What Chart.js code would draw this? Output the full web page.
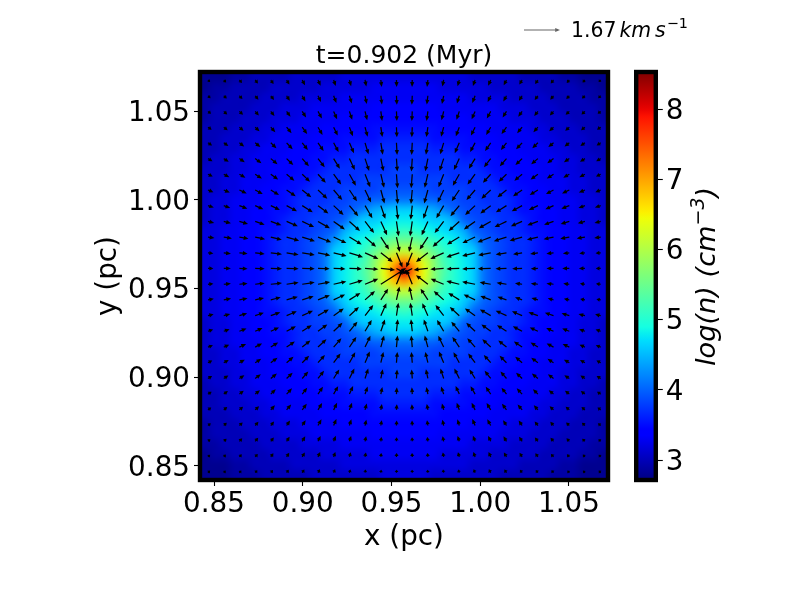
<!DOCTYPE html>
<html><head><meta charset="utf-8">
<style>html,body{margin:0;padding:0;background:#fff;width:800px;height:600px;overflow:hidden}canvas{position:absolute;top:0}#main{left:0}#cbar{left:620px}</style>
<script src="https://cdn.jsdelivr.net/npm/chart.js@4/dist/chart.umd.js"></script>
</head><body>
<canvas id="main" width="800" height="600"></canvas>
<canvas id="cbar" width="180" height="600"></canvas>
<script>
const titleText = 't=0.902 (Myr)';
const xLabel = 'x (pc)';
const yLabel = 'y (pc)';
const xTicks = [0.85,0.90,0.95,1.00,1.05];
const yTicks = [0.85,0.90,0.95,1.00,1.05];
const cbarTicks = [3,4,5,6,7,8];
const axisMin = 0.8421, axisMax = 1.072;
const cbarMin = 2.715, cbarMax = 8.53;
const keySpeed = 1.67;

// log10(n) x 10, rows top to bottom, columns left to right
const logNTenths = [
[28,28,28,29,29,30,30,30,30,31,31,31,31,31,32,32,32,32,32,32,32,32,32,32,32,32,32,31,31,31,31,31,30,30,30,30,29,29,28,28,28],
[28,29,29,30,30,30,30,31,31,31,31,31,32,32,32,32,32,33,33,33,33,33,33,33,32,32,32,32,32,31,31,31,31,31,30,30,30,30,29,29,28],
[29,29,30,30,30,30,31,31,31,31,32,32,32,32,33,33,33,33,33,33,33,33,33,33,33,33,33,32,32,32,32,31,31,31,31,30,30,30,30,29,29],
[29,30,30,30,30,31,31,31,32,32,32,33,33,33,33,33,33,34,34,34,34,34,34,34,33,33,33,33,33,33,32,32,32,31,31,31,30,30,30,30,29],
[29,30,30,30,31,31,31,32,32,32,33,33,33,33,34,34,34,34,34,34,34,34,34,34,34,34,34,33,33,33,33,32,32,32,31,31,31,30,30,30,29],
[30,30,30,31,31,31,32,32,33,33,33,33,34,34,34,34,34,35,35,35,35,35,35,35,34,34,34,34,34,33,33,33,33,32,32,31,31,31,30,30,30],
[30,30,31,31,31,32,32,33,33,33,33,34,34,34,35,35,35,35,36,36,36,36,36,35,35,35,35,34,34,34,33,33,33,33,32,32,31,31,31,30,30],
[30,30,31,31,32,32,33,33,33,34,34,34,35,35,35,36,36,36,37,37,37,37,37,36,36,36,35,35,35,34,34,34,33,33,33,32,32,31,31,30,30],
[30,31,31,32,32,33,33,33,34,34,34,35,35,36,36,37,37,37,37,37,37,37,37,37,37,37,36,36,35,35,34,34,34,33,33,33,32,32,31,31,30],
[31,31,31,32,32,33,33,34,34,34,35,35,36,37,37,37,37,37,37,38,38,38,37,37,37,37,37,37,36,35,35,34,34,34,33,33,32,32,31,31,31],
[31,31,32,32,33,33,33,34,34,35,35,36,37,37,37,37,38,38,38,38,38,38,38,38,38,37,37,37,37,36,35,35,34,34,33,33,33,32,32,31,31],
[31,31,32,32,33,33,34,34,35,35,36,37,37,37,38,38,38,38,39,39,39,39,39,38,38,38,38,37,37,37,36,35,35,34,34,33,33,32,32,31,31],
[31,32,32,33,33,33,34,34,35,36,37,37,37,38,38,39,39,40,40,41,41,41,40,40,39,39,38,38,37,37,37,36,35,34,34,33,33,33,32,32,31],
[31,32,32,33,33,34,34,35,35,36,37,37,38,38,39,40,42,44,45,46,46,46,45,44,42,40,39,38,38,37,37,36,35,35,34,34,33,33,32,32,31],
[31,32,32,33,33,34,34,35,36,37,37,38,38,39,40,44,46,46,47,48,48,48,47,46,46,44,40,39,38,38,37,37,36,35,34,34,33,33,32,32,31],
[32,32,33,33,34,34,35,35,36,37,37,38,39,40,44,46,47,48,49,50,51,50,49,48,47,46,44,40,39,38,37,37,36,35,35,34,34,33,33,32,32],
[32,32,33,33,34,34,35,36,37,37,38,39,40,43,46,48,49,51,53,55,55,55,53,51,49,48,46,43,40,39,38,37,37,36,35,34,34,33,33,32,32],
[32,32,33,33,34,34,35,36,37,37,38,39,41,46,47,49,51,54,57,60,61,60,57,54,51,49,47,46,41,39,38,37,37,36,35,34,34,33,33,32,32],
[32,32,33,33,34,34,35,36,37,37,38,39,41,46,48,50,52,57,62,68,71,68,62,57,52,50,48,46,41,39,38,37,37,36,35,34,34,33,33,32,32],
[32,32,33,33,34,34,35,36,37,37,38,39,41,46,48,50,53,57,64,72,81,72,64,57,53,50,48,46,41,39,38,37,37,36,35,34,34,33,33,32,32],
[32,32,33,33,34,34,35,36,37,37,38,39,41,46,48,50,52,57,62,68,71,68,62,57,52,50,48,46,41,39,38,37,37,36,35,34,34,33,33,32,32],
[32,32,33,33,34,34,35,36,37,37,38,39,41,46,47,49,51,54,57,60,61,60,57,54,51,49,47,46,41,39,38,37,37,36,35,34,34,33,33,32,32],
[32,32,33,33,34,34,35,36,37,37,38,39,40,43,46,48,49,51,53,55,55,55,53,51,49,48,46,43,40,39,38,37,37,36,35,34,34,33,33,32,32],
[32,32,33,33,34,34,35,35,36,37,37,38,39,40,44,46,47,48,49,50,51,50,49,48,47,46,44,40,39,38,37,37,36,35,35,34,34,33,33,32,32],
[31,32,32,33,33,34,34,35,36,37,37,38,38,39,40,44,46,46,47,48,48,48,47,46,46,44,40,39,38,38,37,37,36,35,34,34,33,33,32,32,31],
[31,32,32,33,33,34,34,35,35,36,37,37,38,38,39,40,42,44,45,46,46,46,45,44,42,40,39,38,38,37,37,36,35,35,34,34,33,33,32,32,31],
[31,32,32,33,33,33,34,34,35,36,37,37,37,38,38,39,39,40,40,41,41,41,40,40,39,39,38,38,37,37,37,36,35,34,34,33,33,33,32,32,31],
[31,31,32,32,33,33,34,34,35,35,36,37,37,37,38,38,38,38,39,39,39,39,39,38,38,38,38,37,37,37,36,35,35,34,34,33,33,32,32,31,31],
[31,31,32,32,33,33,33,34,34,35,35,36,37,37,37,37,38,38,38,38,38,38,38,38,38,37,37,37,37,36,35,35,34,34,33,33,33,32,32,31,31],
[31,31,31,32,32,33,33,34,34,34,35,35,36,37,37,37,37,37,37,38,38,38,37,37,37,37,37,37,36,35,35,34,34,34,33,33,32,32,31,31,31],
[30,31,31,32,32,33,33,33,34,34,34,35,35,36,36,37,37,37,37,37,37,37,37,37,37,37,36,36,35,35,34,34,34,33,33,33,32,32,31,31,30],
[30,30,31,31,32,32,33,33,33,34,34,34,35,35,35,36,36,36,37,37,37,37,37,36,36,36,35,35,35,34,34,34,33,33,33,32,32,31,31,30,30],
[30,30,31,31,31,32,32,33,33,33,33,34,34,34,35,35,35,35,36,36,36,36,36,35,35,35,35,34,34,34,33,33,33,33,32,32,31,31,31,30,30],
[30,30,30,31,31,31,32,32,33,33,33,33,34,34,34,34,34,35,35,35,35,35,35,35,34,34,34,34,34,33,33,33,33,32,32,31,31,31,30,30,30],
[29,30,30,30,31,31,31,32,32,32,33,33,33,33,34,34,34,34,34,34,34,34,34,34,34,34,34,33,33,33,33,32,32,32,31,31,31,30,30,30,29],
[29,30,30,30,30,31,31,31,32,32,32,33,33,33,33,33,33,34,34,34,34,34,34,34,33,33,33,33,33,33,32,32,32,31,31,31,30,30,30,30,29],
[29,29,30,30,30,30,31,31,31,31,32,32,32,32,33,33,33,33,33,33,33,33,33,33,33,33,33,32,32,32,32,31,31,31,31,30,30,30,30,29,29],
[28,29,29,30,30,30,30,31,31,31,31,31,32,32,32,32,32,33,33,33,33,33,33,33,32,32,32,32,32,31,31,31,31,31,30,30,30,30,29,29,28],
[28,28,28,29,29,30,30,30,30,31,31,31,31,31,32,32,32,32,32,32,32,32,32,32,32,32,32,31,31,31,31,31,30,30,30,30,29,29,28,28,28],
[28,28,28,29,29,29,30,30,30,30,30,31,31,31,31,31,31,31,32,32,32,32,32,31,31,31,31,31,31,31,30,30,30,30,30,29,29,29,28,28,28]
];

// quiver tails
const arrowX = [0.8466,0.8555,0.8643,0.8732,0.8820,0.8909,0.8997,0.9086,0.9174,0.9263,0.9351,0.9440,0.9528,0.9617,0.9705,0.9794,0.9882,0.9971,1.0059,1.0148,1.0236,1.0325,1.0413,1.0502,1.0590,1.0679];
const arrowY = [1.0675,1.0586,1.0498,1.0409,1.0321,1.0232,1.0144,1.0055,0.9967,0.9878,0.9790,0.9701,0.9613,0.9524,0.9436,0.9347,0.9259,0.9170,0.9082,0.8993,0.8905,0.8816,0.8728,0.8639,0.8551,0.8462];
// velocity x-component, 0.01 km/s
const arrowU = [
[9,11,12,13,13,13,13,12,10,8,6,4,1,-1,-4,-6,-8,-10,-12,-13,-13,-13,-13,-12,-11,-9],
[12,14,14,15,15,15,15,14,13,11,8,5,2,-2,-5,-8,-11,-13,-14,-15,-15,-15,-15,-14,-14,-12],
[14,16,17,17,17,18,18,18,16,13,10,6,2,-2,-6,-10,-13,-16,-18,-18,-18,-17,-17,-17,-16,-14],
[17,18,19,20,21,23,23,21,19,16,12,7,2,-2,-7,-12,-16,-19,-21,-23,-23,-21,-20,-19,-18,-17],
[19,21,22,24,26,28,26,26,23,21,16,9,3,-3,-9,-16,-21,-23,-26,-26,-28,-26,-24,-22,-21,-19],
[21,23,25,29,31,31,31,31,29,25,19,12,4,-4,-12,-19,-25,-29,-31,-31,-31,-31,-29,-25,-23,-21],
[22,26,28,31,34,36,36,36,35,30,24,15,5,-5,-15,-24,-30,-35,-36,-36,-36,-34,-31,-28,-26,-22],
[25,28,34,35,38,42,42,43,40,35,28,17,6,-6,-17,-28,-35,-40,-43,-42,-42,-38,-35,-34,-28,-25],
[27,30,37,38,42,48,49,48,46,41,34,21,7,-7,-21,-34,-41,-46,-48,-49,-48,-42,-38,-37,-30,-27],
[29,33,40,44,49,52,55,55,52,49,42,29,10,-10,-29,-42,-49,-52,-55,-55,-52,-49,-44,-40,-33,-29],
[30,38,42,46,51,58,59,61,59,57,51,38,15,-15,-38,-51,-57,-59,-61,-59,-58,-51,-46,-42,-38,-30],
[25,33,38,44,52,56,58,57,60,63,62,55,28,-28,-55,-62,-60,-60,-58,-50,-42,-36,-33,-30,-26,-24],
[25,33,38,44,52,56,58,54,55,58,62,66,45,-45,-66,-62,-60,-60,-60,-51,-46,-33,-33,-33,-28,-23],
[25,33,38,44,52,56,58,56,59,62,61,117,28,-28,-55,-60,-60,-60,-51,-46,-33,-33,-33,-28,-23,-22],
[27,34,38,41,46,52,53,55,53,51,46,34,14,-14,-34,-46,-51,-53,-48,-42,-33,-30,-27,-25,-22,-20],
[26,30,36,40,44,47,50,50,47,44,38,26,9,-9,-26,-38,-44,-47,-50,-50,-47,-44,-40,-36,-30,-26],
[24,27,33,34,38,43,44,43,41,37,31,19,6,-6,-19,-31,-37,-41,-43,-44,-43,-38,-34,-33,-27,-24],
[23,25,31,32,34,38,38,39,36,32,25,15,5,-5,-15,-25,-32,-36,-39,-38,-38,-34,-32,-31,-25,-23],
[20,23,25,28,31,32,32,32,32,27,22,12,4,-4,-12,-22,-27,-32,-32,-32,-32,-31,-28,-25,-23,-20],
[19,21,23,26,28,28,28,28,26,23,15,9,3,-3,-9,-15,-23,-26,-28,-28,-28,-28,-26,-23,-21,-19],
[17,19,20,22,23,25,23,23,21,17,12,7,2,-2,-7,-12,-17,-21,-23,-23,-25,-23,-22,-20,-19,-17],
[15,16,17,18,19,21,21,19,16,12,8,5,2,-2,-5,-8,-12,-16,-19,-21,-21,-19,-18,-17,-16,-15],
[13,14,15,15,15,16,16,16,13,9,6,4,1,-1,-4,-6,-9,-13,-16,-16,-16,-15,-15,-15,-14,-13],
[11,13,13,14,14,14,14,12,10,8,5,3,1,-1,-3,-5,-8,-10,-12,-14,-14,-14,-14,-13,-13,-11],
[8,10,11,12,12,12,12,10,8,6,4,2,1,-1,-2,-4,-6,-8,-10,-12,-12,-12,-12,-11,-10,-8],
[7,8,9,10,10,10,10,9,7,5,3,2,1,-1,-2,-3,-5,-7,-9,-10,-10,-10,-10,-9,-8,-7]
];
// velocity y-component, 0.01 km/s
const arrowV = [
[-9,-12,-14,-16,-19,-21,-24,-27,-28,-29,-30,-32,-32,-32,-32,-30,-29,-28,-27,-24,-21,-19,-16,-14,-12,-9],
[-11,-13,-15,-18,-20,-23,-26,-29,-33,-36,-38,-41,-42,-42,-41,-38,-36,-33,-29,-26,-23,-20,-18,-15,-13,-11],
[-11,-14,-16,-19,-21,-25,-28,-33,-36,-39,-41,-44,-45,-45,-44,-41,-39,-36,-33,-28,-25,-21,-19,-16,-14,-11],
[-12,-14,-17,-19,-23,-28,-32,-36,-39,-42,-44,-46,-47,-47,-46,-44,-42,-39,-36,-32,-28,-23,-19,-17,-14,-12],
[-12,-15,-17,-20,-25,-30,-33,-38,-43,-48,-53,-55,-56,-56,-55,-53,-48,-43,-38,-33,-30,-25,-20,-17,-15,-12],
[-12,-15,-17,-22,-26,-30,-35,-40,-47,-53,-57,-59,-60,-60,-59,-57,-53,-47,-40,-35,-30,-26,-22,-17,-15,-12],
[-11,-14,-16,-20,-25,-30,-35,-40,-48,-53,-60,-63,-65,-65,-63,-60,-53,-48,-40,-35,-30,-25,-20,-16,-14,-11],
[-10,-12,-16,-19,-23,-29,-34,-40,-46,-52,-58,-62,-65,-65,-62,-58,-52,-46,-40,-34,-29,-23,-19,-16,-12,-10],
[-9,-11,-14,-17,-20,-26,-31,-36,-43,-49,-58,-61,-65,-65,-61,-58,-49,-43,-36,-31,-26,-20,-17,-14,-11,-9],
[-7,-9,-12,-15,-18,-22,-26,-32,-37,-44,-54,-64,-69,-69,-64,-54,-44,-37,-32,-26,-22,-18,-15,-12,-9,-7],
[-5,-7,-8,-10,-13,-17,-19,-24,-28,-35,-45,-58,-69,-69,-58,-45,-35,-28,-24,-19,-17,-13,-10,-8,-7,-5],
[-3,-4,-4,-5,-7,-9,-10,-12,-15,-20,-28,-42,-68,-68,-42,-28,-20,-15,-11,-8,-7,-5,-4,-3,-3,-2],
[0,0,-1,-1,-1,-1,-1,-1,-2,-2,-4,-7,-24,-24,-7,-4,-2,-2,-1,-1,-1,-1,0,0,0,0],
[2,3,4,5,6,8,9,11,13,18,25,75,68,68,42,25,15,12,9,7,5,4,4,3,3,2],
[5,6,7,9,12,15,17,22,25,32,41,52,62,62,52,41,32,25,18,14,12,9,7,5,4,3],
[6,8,11,14,16,20,23,29,33,40,49,58,60,60,58,49,40,33,29,23,20,16,14,11,8,6],
[8,10,13,15,18,23,28,32,39,44,52,55,56,56,55,52,44,39,32,28,23,18,15,13,10,8],
[9,11,14,17,21,26,31,36,41,47,52,54,54,54,54,52,47,41,36,31,26,21,17,14,11,9],
[10,13,14,18,23,27,32,36,43,48,52,50,50,50,50,52,48,43,36,32,27,23,18,14,13,10],
[11,14,15,20,23,27,32,36,42,46,46,43,42,42,43,46,46,42,36,32,27,23,20,15,14,11],
[11,14,15,18,23,27,30,34,37,38,35,33,32,32,33,35,38,37,34,30,27,23,18,15,14,11],
[11,13,15,17,21,25,29,32,33,33,30,27,26,26,27,30,33,33,32,29,25,21,17,15,13,11],
[10,13,14,17,19,23,25,29,30,29,27,24,23,23,24,27,29,30,29,25,23,19,17,14,13,10],
[10,12,14,16,18,21,23,25,26,25,23,20,19,19,20,23,25,26,25,23,21,18,16,14,12,10],
[8,11,13,14,17,19,21,23,23,22,20,18,18,18,18,20,22,23,23,21,19,17,14,13,11,8],
[7,9,10,12,13,14,15,16,16,15,15,14,14,14,14,15,15,16,16,15,14,13,12,10,9,7]
];

const FONT = '"DejaVu Sans"';
const TICK_PX = 27.8;
const PX_PER_KMS = 36 / keySpeed;

function jet(t){
  t = Math.max(0, Math.min(1, t));
  const seg = (p, q) => { for (let i = 1; i < p.length; i++) if (t <= p[i]) return q[i-1] + (q[i]-q[i-1]) * (t-p[i-1]) / (p[i]-p[i-1]); return q[q.length-1]; };
  return [
    255 * seg([0,0.35,0.66,0.89,1],[0,0,1,1,0.5]),
    255 * seg([0,0.125,0.375,0.64,0.91,1],[0,0,1,1,0,0]),
    255 * seg([0,0.11,0.34,0.65,1],[0.5,1,1,0,0])
  ];
}
function drawArrow(ctx, x, y, dx, dy, color, w){
  let L = Math.hypot(dx, dy);
  const a = Math.atan2(dy, dx);
  L = Math.max(L, 3);
  const hl = Math.min(4.8, L * 0.75);
  const hw = 2.1 * Math.min(1, 0.6 + L / 10);
  ctx.save(); ctx.translate(x, y); ctx.rotate(a);
  ctx.fillStyle = color;
  ctx.beginPath();
  ctx.moveTo(0, -w/2); ctx.lineTo(L-hl, -w/2); ctx.lineTo(L-hl, -hw); ctx.lineTo(L, 0);
  ctx.lineTo(L-hl, hw); ctx.lineTo(L-hl, w/2); ctx.lineTo(0, w/2);
  ctx.closePath(); ctx.fill();
  ctx.restore();
}
function nudgeLabels(chart, dy){
  const s = chart.scales.y;
  s.getLabelItems(chart.chartArea).forEach(it => { it.textOffset = dy; });
}

const rows = logNTenths.length, cols = logNTenths[0].length;
const cellData = [];
logNTenths.forEach((r, j) => r.forEach((v, i) => cellData.push({
  x: axisMin + (i + 0.5) / cols * (axisMax - axisMin),
  y: axisMax - (j + 0.5) / rows * (axisMax - axisMin),
  v: v / 10
})));
const arrowData = [];
arrowY.forEach((y, j) => arrowX.forEach((x, i) => arrowData.push({x, y, u: arrowU[j][i] / 100, w: arrowV[j][i] / 100})));

const heatPlugin = {
  id: 'heat',
  beforeDraw(chart){ nudgeLabels(chart, 2.5); },
  beforeDatasetsDraw(chart){
    const {ctx, scales:{x, y}} = chart;
    const off = document.createElement('canvas'); off.width = cols; off.height = rows;
    const oc = off.getContext('2d'); const img = oc.createImageData(cols, rows);
    chart.data.datasets[0].data.forEach((c, k) => {
      const rgb = jet((c.v - cbarMin) / (cbarMax - cbarMin));
      img.data[k*4] = rgb[0]; img.data[k*4+1] = rgb[1]; img.data[k*4+2] = rgb[2]; img.data[k*4+3] = 255;
    });
    oc.putImageData(img, 0, 0);
    const x0 = x.getPixelForValue(axisMin), x1 = x.getPixelForValue(axisMax);
    const y0 = y.getPixelForValue(axisMax), y1 = y.getPixelForValue(axisMin);
    ctx.save(); ctx.imageSmoothingEnabled = true; ctx.imageSmoothingQuality = 'high';
    ctx.drawImage(off, x0, y0, x1 - x0, y1 - y0);
    ctx.restore();
  },
  afterDatasetsDraw(chart){
    const {ctx, scales:{x, y}} = chart;
    ctx.save();
    ctx.beginPath(); ctx.rect(x.left, y.top, x.right - x.left, y.bottom - y.top); ctx.clip();
    chart.data.datasets[1].data.forEach(a => {
      drawArrow(ctx, x.getPixelForValue(a.x), y.getPixelForValue(a.y), a.u * PX_PER_KMS, -a.w * PX_PER_KMS, '#000', 1.25);
    });
    ctx.restore();
  },
  afterDraw(chart){
    const {ctx, chartArea:c} = chart;
    ctx.save();
    ctx.strokeStyle = '#000'; ctx.lineWidth = 4.4;
    ctx.strokeRect(c.left, c.top, c.right - c.left, c.bottom - c.top);
    // quiver key
    drawArrow(ctx, 524, 30, keySpeed * PX_PER_KMS, 0, '#666', 1.1);
    ctx.fillStyle = '#000'; ctx.textBaseline = 'alphabetic'; ctx.textAlign = 'left';
    let tx = 571; const by = 37;
    const put = (s, f, b) => { ctx.font = f; ctx.fillText(s, tx, b); tx += ctx.measureText(s).width; };
    put(keySpeed.toFixed(2), '20.4px ' + FONT, by); tx += 3;
    put('km', 'italic 20.4px ' + FONT, by); tx += 4;
    put('s', 'italic 20.4px ' + FONT, by); tx += 1;
    put('\u22121', '14.4px ' + FONT, by - 9);
    ctx.restore();
  }
};

new Chart(document.getElementById('main'), {
  type: 'scatter',
  data: { datasets: [
    { label: 'log(n)', data: cellData, pointRadius: 0, pointHitRadius: 0 },
    { label: 'velocity', data: arrowData, pointRadius: 0, pointHitRadius: 0 }
  ]},
  plugins: [heatPlugin],
  options: {
    responsive: false, animation: false, devicePixelRatio: 1,
    layout: { padding: { left: 92, right: 192, top: 41, bottom: 46 } },
    plugins: {
      legend: { display: false }, tooltip: { enabled: false },
      title: { display: true, text: titleText, color: '#000', fullSize: false,
        font: { family: FONT, size: 25, weight: 'normal' }, padding: { top: 0, bottom: 1 } }
    },
    scales: {
      x: { type: 'linear', min: axisMin, max: axisMax,
        afterFit(s){ s.height = 74; },
        afterBuildTicks(s){ s.ticks = xTicks.map(value => ({value})); },
        grid: { drawOnChartArea: false, tickLength: 6, tickWidth: 1.1, tickColor: '#000' }, border: { display: false },
        ticks: { color: '#000', maxRotation: 0, autoSkip: false, padding: 2, font: { family: FONT, size: TICK_PX }, callback: v => v.toFixed(2) },
        title: { display: true, text: xLabel, color: '#000', padding: 0, font: { family: FONT, size: TICK_PX } }
      },
      y: { type: 'linear', min: axisMin, max: axisMax,
        afterFit(s){ s.width = 108; },
        afterBuildTicks(s){ s.ticks = yTicks.map(value => ({value})); },
        grid: { drawOnChartArea: false, tickLength: 6, tickWidth: 1.1, tickColor: '#000' }, border: { display: false },
        ticks: { color: '#000', autoSkip: false, padding: 4, font: { family: FONT, size: TICK_PX }, callback: v => v.toFixed(2) },
        title: { display: true, text: yLabel, color: '#000', padding: 0, font: { family: FONT, size: TICK_PX } }
      }
    }
  }
});

const cbarPlugin = {
  id: 'cbarFrame',
  beforeDraw(chart){ nudgeLabels(chart, 2.5); },
  beforeDatasetsDraw(chart){
    const s = chart.scales.y, ctx = chart.ctx;
    const g = ctx.createLinearGradient(0, s.getPixelForValue(cbarMin), 0, s.getPixelForValue(cbarMax));
    for (let k = 0; k <= 64; k++){ const rgb = jet(k / 64); g.addColorStop(k / 64, 'rgb(' + rgb.map(Math.round).join(',') + ')'); }
    chart.getDatasetMeta(0).data[0].options.backgroundColor = g;
  },
  afterDraw(chart){
    const {ctx, chartArea:c} = chart;
    ctx.save();
    ctx.strokeStyle = '#000'; ctx.lineWidth = 4.4;
    ctx.strokeRect(c.left, c.top, c.right - c.left, c.bottom - c.top);
    ctx.translate(95, 366); ctx.rotate(-Math.PI / 2);
    ctx.fillStyle = '#000'; ctx.textAlign = 'left'; ctx.textBaseline = 'alphabetic';
    let tx = 0;
    const put = (s, f, b) => { ctx.font = f; ctx.fillText(s, tx, b); tx += ctx.measureText(s).width; };
    put('log(n) (cm', 'italic 27.2px ' + FONT, 0);
    put('\u22123', 'italic 19px ' + FONT, -11);
    put(')', 'italic 27.2px ' + FONT, 0);
    ctx.restore();
  }
};
new Chart(document.getElementById('cbar'), {
  type: 'bar',
  data: { labels: ['log(n)'], datasets: [{
    data: [[cbarMin, cbarMax]],
    barPercentage: 1, categoryPercentage: 1, borderWidth: 0, borderSkipped: false,
    backgroundColor: '#00f'
  }]},
  plugins: [cbarPlugin],
  options: {
    responsive: false, animation: false, devicePixelRatio: 1,
    layout: { padding: { left: 16.2, right: 0, top: 72, bottom: 120 } },
    plugins: { legend: { display: false }, tooltip: { enabled: false } },
    scales: {
      x: { display: false },
      y: { position: 'right', min: cbarMin, max: cbarMax,
        afterFit(s){ s.width = 144.2; },
        afterBuildTicks(s){ s.ticks = cbarTicks.map(value => ({value})); },
        grid: { drawOnChartArea: false, tickLength: 7, tickWidth: 1.1, tickColor: '#000' }, border: { display: false },
        ticks: { color: '#000', autoSkip: false, padding: 3, font: { family: FONT, size: TICK_PX }, callback: v => String(v) }
      }
    }
  }
});
</script>
</body></html>
